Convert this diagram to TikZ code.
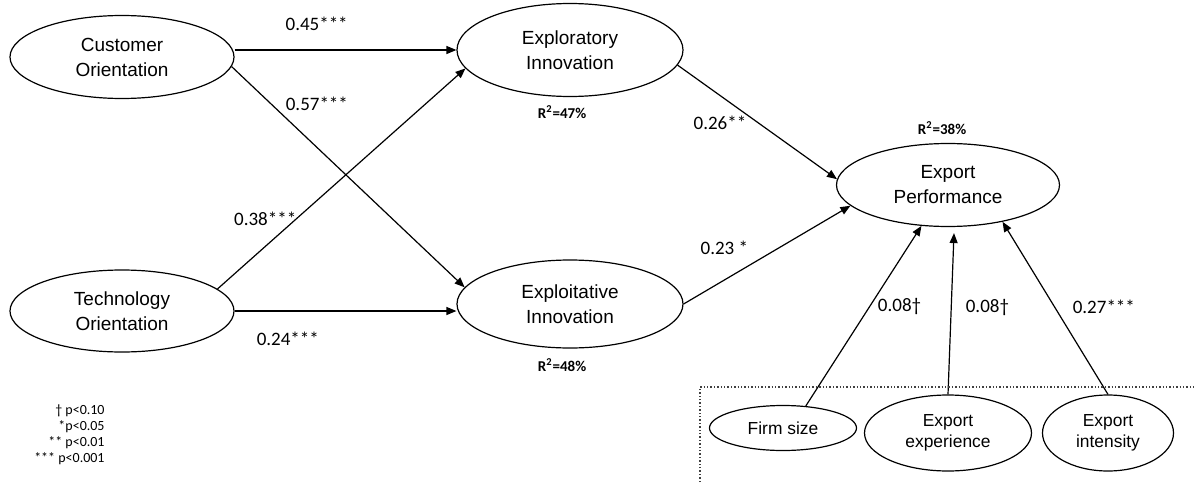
\documentclass[tikz,border=0pt]{standalone}
\usepackage{fontspec}
\setmainfont{Liberation Sans}
\newfontfamily\calib{Carlito}
\usetikzlibrary{positioning,shapes.geometric,arrows.meta}

\begin{document}
\begin{tikzpicture}[
x=0.5pt, y=-0.5pt,
 construct/.style = {ellipse, draw, line width=.6pt,% latent variables
                inner sep=0pt, align=center,
                font=\fontsize{9.5}{12.5}\selectfont},
   control/.style = {construct,% control variables in the dotted box
                font=\fontsize{8.7}{10.5}\selectfont},
    effect/.style = {draw, line width=.6pt,
                -{Triangle[length=5pt,width=4pt]}},
      coef/.style = {inner sep=0pt, font=\calib\fontsize{9.5}{11}\selectfont},
       rsq/.style = {inner sep=0pt, font=\calib\bfseries\fontsize{7.5}{9}\selectfont},
                        ]
\useasboundingbox (0,0) rectangle (1194,482);
% constructs
\node[construct, minimum width=112pt, minimum height=41.5pt] (cust) at (122,57) {Customer\\Orientation};
\node[construct, minimum width=112pt, minimum height=41pt] (tech) at (122,311) {Technology\\Orientation};
\node[construct, minimum width=113pt, minimum height=46.5pt] (explo) at (570,50) {Exploratory\\Innovation};
\node[construct, minimum width=113pt, minimum height=44pt] (exploit) at (570,304) {Exploitative\\Innovation};
\node[construct, minimum width=111.5pt, minimum height=41.5pt] (export) at (948,185) {Export\\Performance};
\node[control, minimum width=73.5pt, minimum height=22.5pt] (firm) at (783,428) {Firm size};
\node[control, minimum width=83.5pt, minimum height=38pt] (exper) at (948,433) {Export\\experience};
\node[control, minimum width=65.5pt, minimum height=38pt] (inten) at (1108,433) {Export\\intensity};
% explained variance
\node[rsq, below=4pt of explo, xshift=-4pt] (r2explo) {R\textsuperscript{2}=47\%};
\node[rsq, below=5pt of exploit, xshift=-4pt] (r2exploit) {R\textsuperscript{2}=48\%};
\node[rsq, above=4pt of export, xshift=-3pt] (r2export) {R\textsuperscript{2}=38\%};
% paths
\draw[effect] (cust.east |- explo.west) -- node[coef, pos=.37, above=9.5pt] (b45) {0.45***} (explo.west);
\draw[effect] (cust.-5) -- node[coef, pos=.17, right=7pt] (b57) {0.57***} (exploit.171);
\draw[effect] (tech.13) -- node[coef, pos=.32, anchor=east] (b38) {0.38***} (explo.190);
\draw[effect] (tech.east) -- node[coef, pos=.24, below=10pt] (b24) {0.24***} (tech.east -| exploit.west);
\draw[effect] (explo.-8) -- node[coef, pos=.51, left=6pt] (b26) {0.26**} (export.177);
\draw[effect] (exploit.east) -- node[coef, pos=.39, anchor=south east, yshift=5pt] (b23) {0.23 *} (export.192);
\draw[effect] (firm.44) -- node[coef, pos=.55, right=4pt] (b08a) {0.08†} (export.237);
\draw[effect] (exper.north) -- node[coef, pos=.54, right=7pt] (b08b) {0.08†} ([shift={(6,6)}]export.south);
\draw[effect] (inten.north) -- node[coef, pos=.51, right=9pt] (b27) {0.27***} (export.-34);
% controls box and legend
\draw[densely dotted, line width=.7pt, black!75] (700,482) -- (700,387) -- (1194,387);
\node[coef, font=\calib\fontsize{7}{8}\selectfont, align=right, anchor=east] (signif) at (105,435)
    {† p<0.10\\*p<0.05\\** p<0.01\\*** p<0.001};
    \end{tikzpicture}
\end{document}
